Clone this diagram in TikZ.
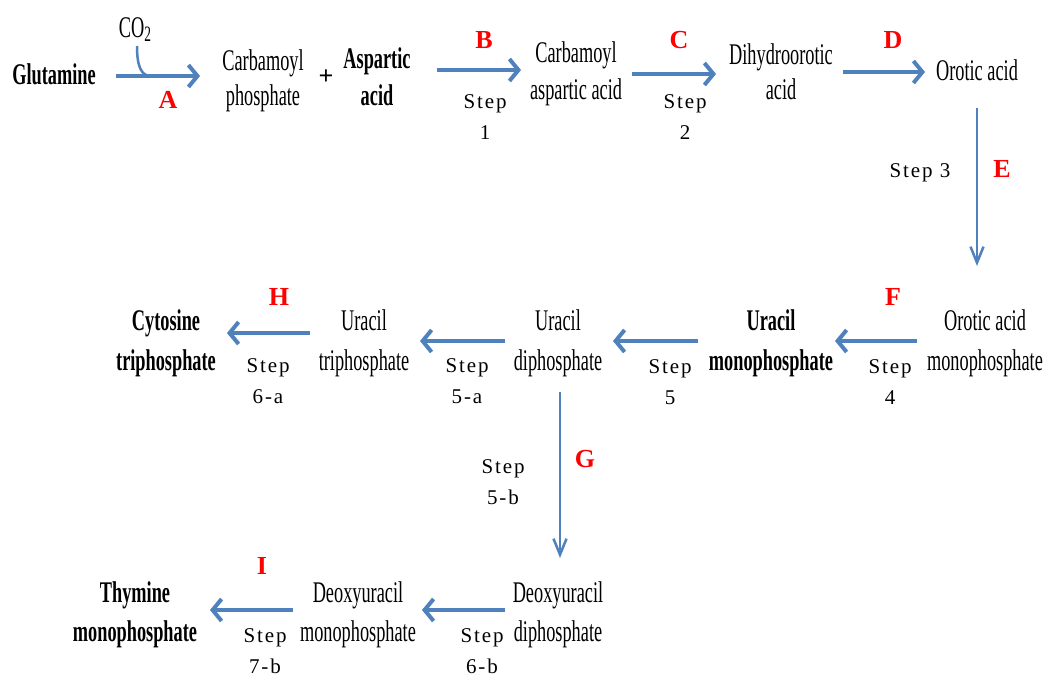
\documentclass[tikz,border=0pt]{standalone}
\usepackage{fontspec}
\usetikzlibrary{arrows.meta}
\newfontfamily\cond[FakeStretch=0.61]{Liberation Serif}
\newfontfamily\stepfont[LetterSpace=9]{Liberation Serif}
\newfontfamily\redfont{Liberation Serif}
\definecolor{arrblue}{RGB}{79,129,189}
\newcommand\twol[3][0pt]{\begin{tabular}[t]{@{}c@{}}#2\\[#1]#3\end{tabular}}
\tikzset{
  lbl/.style={font=\cond\fontsize{30}{35}\selectfont, inner sep=0pt, anchor=base},
  lblb/.style={font=\cond\bfseries\fontsize{30}{35}\selectfont, inner sep=0pt, anchor=base},
  stepl/.style={font=\stepfont\fontsize{21}{31}\selectfont, inner sep=0pt, anchor=base},
  redl/.style={font=\redfont\bfseries\fontsize{26}{30}\selectfont, text=red, inner sep=0pt, anchor=base},
  harr/.style={draw=arrblue, line width=4pt, -{Straight Barb[length=9pt,width=22pt]}},
  varr/.style={draw=arrblue, line width=2.5pt, -{Straight Barb[length=16pt,width=13pt]}},
}
\begin{document}
\begin{tikzpicture}[x=1pt,y=-1pt]
\useasboundingbox (0,0) rectangle (1047,680);
% row 1
\node[lblb] (glut) at (54,84) {Glutamine};
\node[lbl] (co2) at (135,37) {CO\raisebox{-0.35ex}{\fontsize{22}{24}\selectfont 2}};
\node[lbl] (carbp) at (263,70) {\twol{Carbamoyl}{phosphate}};
\node[font=\redfont\bfseries\fontsize{26}{30}\selectfont, inner sep=0pt, anchor=center] (plus) at (326,77) {+};
\node[lblb] (asp) at (377,68) {\twol[2pt]{Aspartic}{acid}};
\node[lbl] (cap) at (576,62) {\twol[2pt]{Carbamoyl}{aspartic acid}};
\node[lbl] (dih) at (781,64) {\twol{Dihydroorotic}{acid}};
\node[lbl] (oro) at (977,80) {Orotic acid};
% row 2
\node[lbl] (oamp) at (985,330) {\twol[5pt]{Orotic acid}{monophosphate}};
\node[lblb] (ump) at (771,330) {\twol[5pt]{Uracil}{monophosphate}};
\node[lbl] (udp) at (558,330) {\twol[5pt]{Uracil}{diphosphate}};
\node[lbl] (utp) at (364,330) {\twol[5pt]{Uracil}{triphosphate}};
\node[lblb] (ctp) at (166,330) {\twol[5pt]{Cytosine}{triphosphate}};
% row 3
\node[lbl] (dudp) at (558,602) {\twol[4pt]{Deoxyuracil}{diphosphate}};
\node[lbl] (dump) at (358,602) {\twol[4pt]{Deoxyuracil}{monophosphate}};
\node[lblb] (tmp) at (135,602) {\twol[4pt]{Thymine}{monophosphate}};
% red letters
\node[redl] (lA) at (168,108) {A};
\node[redl] (lB) at (484,48) {B};
\node[redl] (lC) at (679,48) {C};
\node[redl] (lD) at (893,48) {D};
\node[redl] (lE) at (1002,177) {E};
\node[redl] (lF) at (893,305) {F};
\node[redl] (lG) at (585,467) {G};
\node[redl] (lH) at (279,305) {H};
\node[redl] (lI) at (262,574) {I};
% step labels
\node[stepl] (s1) at (485,108) {\twol{Step}{1}};
\node[stepl] (s2) at (685,108) {\twol{Step}{2}};
\node[stepl] (s3) at (920,177) {Step 3};
\node[stepl] (s4) at (890,373) {\twol{Step}{4}};
\node[stepl] (s5) at (670,373) {\twol{Step}{5}};
\node[stepl] (s5a) at (467,372) {\twol{Step}{5-a}};
\node[stepl] (s6a) at (268,372) {\twol{Step}{6-a}};
\node[stepl] (s5b) at (503,473) {\twol{Step}{5-b}};
\node[stepl] (s6b) at (482,642) {\twol{Step}{6-b}};
\node[stepl] (s7b) at (265,642) {\twol{Step}{7-b}};
% arrow ends
\coordinate (a1) at (116,76);  \coordinate (a2) at (200,76);
\coordinate (b1) at (437,70);  \coordinate (b2) at (521,70);
\coordinate (c1) at (632,74);  \coordinate (c2) at (716,74);
\coordinate (d1) at (843,72);  \coordinate (d2) at (925,72);
\coordinate (e1) at (977,108); \coordinate (e2) at (977,266);
\coordinate (f1) at (917,341); \coordinate (f2) at (835,341);
\coordinate (g1) at (698,341); \coordinate (g2) at (613,341);
\coordinate (h1) at (505,341); \coordinate (h2) at (420,341);
\coordinate (i1) at (310,333); \coordinate (i2) at (227,333);
\coordinate (j1) at (560,392); \coordinate (j2) at (560,558);
\coordinate (k1) at (505,610); \coordinate (k2) at (422,610);
\coordinate (m1) at (293,610); \coordinate (m2) at (210,610);
\coordinate (co2s) at (137,46); \coordinate (co2e) at (151,76);
\draw[harr] (a1) -- (a2);
\draw[draw=arrblue, line width=2.5pt] (co2s) .. controls (137,66) and (141,76) .. (co2e);
\draw[harr] (b1) -- (b2);
\draw[harr] (c1) -- (c2);
\draw[harr] (d1) -- (d2);
\draw[varr] (e1) -- (e2);
\draw[harr] (f1) -- (f2);
\draw[harr] (g1) -- (g2);
\draw[harr] (h1) -- (h2);
\draw[harr] (i1) -- (i2);
\draw[varr] (j1) -- (j2);
\draw[harr] (k1) -- (k2);
\draw[harr] (m1) -- (m2);
\end{tikzpicture}
\end{document}
